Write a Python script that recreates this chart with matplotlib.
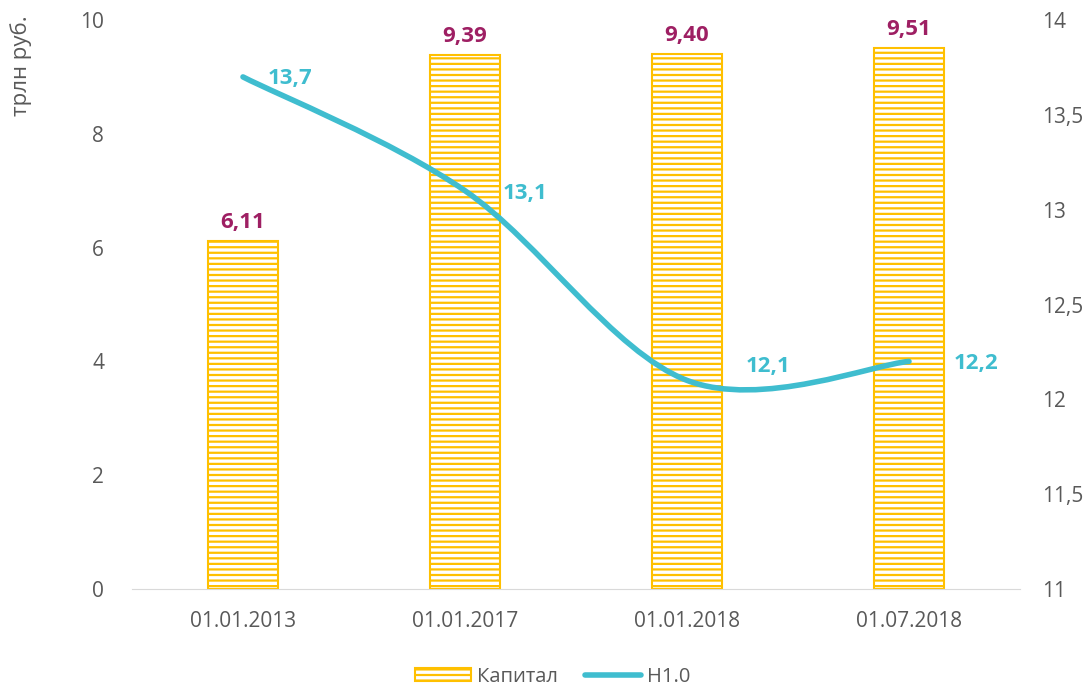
import numpy as np
import matplotlib.pyplot as plt
from matplotlib.path import Path
from matplotlib.patches import PathPatch
from matplotlib.lines import Line2D
from matplotlib.patches import Patch

plt.rcParams['font.family'] = ['Open Sans', 'DejaVu Sans']
plt.rcParams['hatch.linewidth'] = 1.6
plt.rcParams['hatch.color'] = '#FFC000'

dates = ['01.01.2013', '01.01.2017', '01.01.2018', '01.07.2018']
capital = [6.11, 9.39, 9.40, 9.51]
capital_labels = ['6,11', '9,39', '9,40', '9,51']
n10 = [13.7, 13.1, 12.1, 12.2]
n10_labels = ['13,7', '13,1', '12,1', '12,2']

gold = '#FFC000'
cyan = '#3FBDCF'
plum = '#9E1F63'
grey = '#595959'


def smooth_path(xs, ys):
    # Excel-like smoothed line: cubic Bezier with Catmull-Rom tangents
    pts = np.column_stack([xs, ys]).astype(float)
    verts = [pts[0]]
    codes = [Path.MOVETO]
    for i in range(len(pts) - 1):
        p0 = pts[i - 1] if i > 0 else pts[i]
        p1 = pts[i]
        p2 = pts[i + 1]
        p3 = pts[i + 2] if i + 2 < len(pts) else pts[i + 1]
        c1 = p1 + (p2 - p0) / 6
        c2 = p2 - (p3 - p1) / 6
        verts += [c1, c2, p2]
        codes += [Path.CURVE4] * 3
    return Path(verts, codes)


fig = plt.figure(figsize=(10.88, 6.88), dpi=100)
ax = fig.add_axes([0.1213, 0.1439, 0.8162, 0.827])
ax2 = ax.twinx()

x = np.arange(len(dates))
ax.bar(x, capital, width=0.315, color='white', edgecolor=gold,
       linewidth=1.5, hatch='---', zorder=2)
for xi, v, lab in zip(x, capital, capital_labels):
    ax.text(xi, v + 0.14, lab, ha='center', va='bottom', color=plum,
            fontsize=16, fontweight='bold')

ax.set_xlim(-0.5, len(dates) - 0.5)
ax.set_ylim(0, 10)
ax.set_yticks(np.arange(0, 11, 2))
ax.set_xticks(x)
ax.set_xticklabels(dates)
ax2.set_ylim(11, 14)
ax2.set_yticks([11, 11.5, 12, 12.5, 13, 13.5, 14])
ax2.set_yticklabels(['11', '11,5', '12', '12,5', '13', '13,5', '14'])

patch = PathPatch(smooth_path(x, n10), facecolor='none', edgecolor=cyan,
                  linewidth=4, capstyle='round', zorder=3)
ax2.add_patch(patch)

offsets = [(0.21, -0.01), (0.27, -0.015), (0.365, 0.075), (0.30, -0.01)]
for xi, v, lab, (dx, dy) in zip(x, n10, n10_labels, offsets):
    ax2.text(xi + dx, v + dy, lab, ha='center', va='center', color=cyan,
             fontsize=16, fontweight='bold', zorder=4)

for a in (ax, ax2):
    for s in ['top', 'right', 'left', 'bottom']:
        a.spines[s].set_visible(False)
    a.tick_params(length=0, labelsize=15, labelcolor=grey)
ax.spines['bottom'].set_visible(True)
ax.spines['bottom'].set_color('#D9D9D9')
ax.tick_params(axis='x', pad=16)
ax.tick_params(axis='y', pad=20)
ax2.tick_params(axis='y', pad=16)

fig.text(0.019, 0.905, 'трлн руб.', rotation=90, ha='center', va='center',
         color=grey, fontsize=16)

handles = [Patch(facecolor='white', edgecolor=gold, hatch='---', linewidth=1.5),
           Line2D([0], [0], color=cyan, linewidth=4, solid_capstyle='round')]
fig.legend(handles, ['Капитал', 'Н1.0'], loc='center', ncol=2,
           bbox_to_anchor=(0.508, 0.016), frameon=False, fontsize=14.5,
           labelcolor=grey, handlelength=2.8, handleheight=0.6,
           columnspacing=1.3, handletextpad=0.3, borderpad=0)

fig.savefig('out.png', dpi=100)
